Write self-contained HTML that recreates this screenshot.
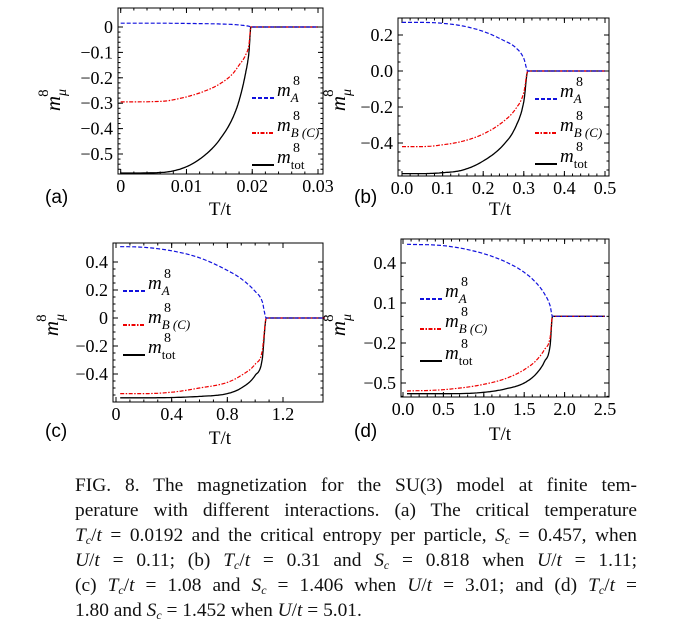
<!DOCTYPE html>
<html><head><meta charset="utf-8"><style>
html,body{margin:0;padding:0;background:#fff;}
body{width:693px;height:638px;position:relative;overflow:hidden;font-family:"Liberation Serif",serif;}
.cap{position:absolute;left:75px;width:562px;font-size:19.4px;line-height:25px;text-align:justify;text-align-last:justify;white-space:nowrap;color:#111;}
.cap.last{text-align-last:left;}
.cap sub{font-size:12px;vertical-align:-3px;line-height:0;}
</style></head><body>
<svg id="fig" width="693" height="460" style="position:absolute;left:0;top:0" font-family="Liberation Serif, serif"></svg>
<div class="cap" style="top:473px">FIG. 8. The magnetization for the SU(3) model at finite tem-</div>
<div class="cap" style="top:498px">perature with different interactions. (a) The critical temperature</div>
<div class="cap" style="top:523px"><i>T<sub>c</sub></i>/<i>t</i> = 0.0192 and the critical entropy per particle, <i>S<sub>c</sub></i> = 0.457, when</div>
<div class="cap" style="top:548px"><i>U</i>/<i>t</i> = 0.11; (b) <i>T<sub>c</sub></i>/<i>t</i> = 0.31 and <i>S<sub>c</sub></i> = 0.818 when <i>U</i>/<i>t</i> = 1.11;</div>
<div class="cap" style="top:573px">(c) <i>T<sub>c</sub></i>/<i>t</i> = 1.08 and <i>S<sub>c</sub></i> = 1.406 when <i>U</i>/<i>t</i> = 3.01; and (d) <i>T<sub>c</sub></i>/<i>t</i> =</div>
<div class="cap last" style="top:598px">1.80 and <i>S<sub>c</sub></i> = 1.452 when <i>U</i>/<i>t</i> = 5.01.</div>
<script>
// ---- data ----
const aT=[0,0.006,0.01,0.013,0.015,0.017,0.018,0.019,0.0195,0.0198,0.025,0.03];
const aA=[0.015,0.015,0.014,0.013,0.012,0.010,0.008,0.005,0.003,0,0,0];
const aB=[-0.295,-0.293,-0.275,-0.25,-0.225,-0.185,-0.15,-0.11,-0.07,0,0,0];
const aTot=[-0.575,-0.573,-0.55,-0.5,-0.445,-0.36,-0.29,-0.18,-0.1,0,0,0];
const aXTicks=["0","0.01","0.02","0.03"];
const aYTicks=["0","\u22120.1","\u22120.2","\u22120.3","\u22120.4","\u22120.5"];
const bT=[0,0.05,0.1,0.15,0.2,0.25,0.28,0.3,0.31,0.4,0.5];
const bA=[0.27,0.27,0.265,0.25,0.22,0.17,0.13,0.07,0,0,0];
const bB=[-0.42,-0.42,-0.41,-0.39,-0.35,-0.28,-0.21,-0.12,0,0,0];
const bTot=[-0.57,-0.57,-0.565,-0.55,-0.5,-0.41,-0.31,-0.17,0,0,0];
const bXTicks=["0.0","0.1","0.2","0.3","0.4","0.5"];
const bYTicks=["0.2","0.0","\u22120.2","\u22120.4"];
const cT=[0.03,0.2,0.4,0.6,0.8,0.9,1.0,1.05,1.08,1.3,1.5];
const cA=[0.51,0.505,0.48,0.43,0.34,0.28,0.19,0.12,0,0,0];
const cB=[-0.54,-0.54,-0.53,-0.5,-0.46,-0.41,-0.33,-0.24,0,0,0];
const cTot=[-0.57,-0.57,-0.568,-0.56,-0.54,-0.5,-0.41,-0.3,0,0,0];
const cXTicks=["0","0.4","0.8","1.2"];
const cYTicks=["0.4","0.2","0","\u22120.2","\u22120.4"];
const dT=[0.05,0.5,1.0,1.3,1.5,1.65,1.75,1.82,1.85,2.2,2.5];
const dA=[0.54,0.53,0.47,0.40,0.33,0.25,0.17,0.08,0,0,0];
const dB=[-0.56,-0.55,-0.51,-0.46,-0.40,-0.33,-0.25,-0.16,0,0,0];
const dTot=[-0.58,-0.58,-0.57,-0.54,-0.5,-0.43,-0.34,-0.22,0,0,0];
const dXTicks=["0.0","0.5","1.0","1.5","2.0","2.5"];
const dYTicks=["0.4","0.1","\u22120.2","\u22120.5"];

const NS="http://www.w3.org/2000/svg";
const svg=document.getElementById('fig');
function mk(tag,attrs,parent){const e=document.createElementNS(NS,tag);for(const k in attrs)e.setAttribute(k,attrs[k]);(parent||svg).appendChild(e);return e;}

function monotone(xs,ys){
  const n=xs.length,d=[],m=new Array(n);
  for(let i=0;i<n-1;i++)d.push((ys[i+1]-ys[i])/(xs[i+1]-xs[i]));
  m[0]=d[0];m[n-1]=d[n-2];
  for(let i=1;i<n-1;i++){m[i]=(d[i-1]*d[i]<=0)?0:(d[i-1]+d[i])/2;}
  for(let i=0;i<n-1;i++){
    if(d[i]===0){m[i]=0;m[i+1]=0;continue;}
    const a=m[i]/d[i],b=m[i+1]/d[i],s=a*a+b*b;
    if(s>9){const t=3/Math.sqrt(s);m[i]=t*a*d[i];m[i+1]=t*b*d[i];}
  }
  const out=[];
  for(let i=0;i<n-1;i++){
    const h=xs[i+1]-xs[i];
    for(let k=0;k<12;k++){
      const t=k/12,t2=t*t,t3=t2*t;
      const y=(2*t3-3*t2+1)*ys[i]+(t3-2*t2+t)*h*m[i]+(-2*t3+3*t2)*ys[i+1]+(t3-t2)*h*m[i+1];
      out.push([xs[i]+t*h,y]);
    }
  }
  out.push([xs[n-1],ys[n-1]]);
  return out;
}

function panel(cfg){
  const g=mk('g',{});
  
  
  const sx=v=>cfg.x0px+(v-cfg.x0)*(cfg.x1px-cfg.x0px)/(cfg.x1-cfg.x0);
  const sy=v=>cfg.y0px+(v-cfg.y0)*(cfg.y1px-cfg.y0px)/(cfg.y1-cfg.y0);
  const f=cfg.frame;
  const fr=mk('rect',{x:f[0],y:f[1],width:f[2]-f[0],height:f[3]-f[1],fill:'none',stroke:'#000','stroke-width':1},g);
  
  
  cfg.xt.forEach((lab,i)=>{
    const v=cfg.xtv[i],X=sx(v);
    mk('line',{x1:X,x2:X,y1:f[3],y2:f[3]-5,stroke:'#000'},g);
    mk('line',{x1:X,x2:X,y1:f[1],y2:f[1]+5,stroke:'#000'},g);
    const t=mk('text',{x:X,y:f[3]+18,'font-size':18,'text-anchor':'middle'},g);
    t.textContent=lab;
    
    
  });
  for(let v=cfg.xtv[0];v<=cfg.x1+1e-9;v+=cfg.xminor){const X=sx(v);if(X>f[2]+0.5)break;
    mk('line',{x1:X,x2:X,y1:f[3],y2:f[3]-2.5,stroke:'#000'},g);mk('line',{x1:X,x2:X,y1:f[1],y2:f[1]+2.5,stroke:'#000'},g);}
  cfg.yt.forEach((lab,i)=>{
    const v=cfg.ytv[i],Y=sy(v);
    mk('line',{x1:f[0],x2:f[0]+5,y1:Y,y2:Y,stroke:'#000'},g);
    mk('line',{x1:f[2],x2:f[2]-5,y1:Y,y2:Y,stroke:'#000'},g);
    const t=mk('text',{x:f[0]-5,y:Y+6,'font-size':18,'text-anchor':'end'},g);
    t.textContent=lab;
    
    
  });
  for(let v=cfg.ytv[0];sy(v)<f[3];v-=cfg.yminor){const Y=sy(v);if(Y<f[1])continue;
    mk('line',{x1:f[0],x2:f[0]+2.5,y1:Y,y2:Y,stroke:'#000'},g);mk('line',{x1:f[2],x2:f[2]-2.5,y1:Y,y2:Y,stroke:'#000'},g);}
  const series=[[cfg.tot,'#000','none',1.3,'line-m-tot'],[cfg.B,'#e00','4 1.5 1.5 1.5',1.2,'line-m-b'],[cfg.A,'#11d','4 2',1.2,'line-m-a']];
  series.forEach(s=>{
    const pts=monotone(cfg.T,s[0]).map(p=>sx(p[0]).toFixed(1)+','+sy(p[1]).toFixed(1)).join(' ');
    const p=mk('polyline',{points:pts,fill:'none',stroke:s[1],'stroke-width':s[3],'stroke-dasharray':s[2]},g);
    
    
  });
  const L=cfg.leg, labs=[['A','#11d','4 2'],['B (C)','#e00','4 1.5 1.5 1.5'],['tot','#000','none']];
  labs.forEach((l,i)=>{
    const Y=L.ys[i];
    const ln=mk('line',{x1:L.x,x2:L.x+22,y1:Y,y2:Y,stroke:l[1],'stroke-width':2,'stroke-dasharray':l[2]},g);
    
    
    const t=mk('text',{x:L.x+25,y:Y-2,'font-size':19},g);
    
    
    t.innerHTML='<tspan font-style="italic">m</tspan><tspan font-size="13" dy="6" font-style="'+(l[0]==='tot'?'normal':'italic')+'">'+l[0]+'</tspan>';
    const s8=mk('text',{x:L.x+41,y:Y-13,'font-size':14},g);
    s8.textContent='8';
    
    
  });
  const yl=mk('text',{transform:'translate('+cfg.ylab[0]+','+cfg.ylab[1]+') rotate(-90)','font-size':21,'text-anchor':'middle'},g);
  
  
  yl.innerHTML='<tspan font-style="italic">m</tspan><tspan font-size="14" dy="6" font-style="italic">μ</tspan><tspan font-size="15" dx="-8" dy="-18">8</tspan>';
  const xl=mk('text',{x:cfg.xlab[0],y:cfg.xlab[1],'font-size':19,'text-anchor':'middle'},g);
  xl.textContent='T/t';
  
  
  const pl=mk('text',{x:cfg.plab[0],y:cfg.plab[1],'font-size':19,'font-family':'Liberation Sans, sans-serif'},g);
  pl.textContent='('+cfg.id+')';
  
  
}
panel({id:'a',frame:[118,8,323,174],x0:0,x1:0.03,x0px:120.7,x1px:318,y0:0,y1:-0.5,y0px:27,y1px:154,
  xt:aXTicks,xtv:[0,0.01,0.02,0.03],xminor:0.002,yt:aYTicks,ytv:[0,-0.1,-0.2,-0.3,-0.4,-0.5],yminor:0.02,
  T:aT,A:aA,B:aB,tot:aTot,leg:{x:252,ys:[98,133,165]},ylab:[60,100],xlab:[220,215],plab:[45,203]});
panel({id:'b',frame:[398,18,609,176],x0:0,x1:0.5,x0px:402,x1px:605,y0:0.2,y1:-0.4,y0px:35,y1px:143,
  xt:bXTicks,xtv:[0,0.1,0.2,0.3,0.4,0.5],xminor:0.02,yt:bYTicks,ytv:[0.2,0,-0.2,-0.4],yminor:0.05,
  T:bT,A:bA,B:bB,tot:bTot,leg:{x:535,ys:[99,133,164]},ylab:[345,100],xlab:[500,215],plab:[354,203]});
panel({id:'c',frame:[113,243,323,402],x0:0,x1:1.2,x0px:116,x1px:283,y0:0.4,y1:-0.4,y0px:262,y1px:374,
  xt:cXTicks,xtv:[0,0.4,0.8,1.2],xminor:0.1,yt:cYTicks,ytv:[0.4,0.2,0,-0.2,-0.4],yminor:0.05,
  T:cT,A:cA,B:cB,tot:cTot,leg:{x:123,ys:[291,325,355]},ylab:[58,325],xlab:[220,444],plab:[45,437]});
panel({id:'d',frame:[401,239,609,397],x0:0,x1:2.5,x0px:403,x1px:605,y0:0.4,y1:-0.5,y0px:263,y1px:383,
  xt:dXTicks,xtv:[0,0.5,1,1.5,2,2.5],xminor:0.1,yt:dYTicks,ytv:[0.4,0.1,-0.2,-0.5],yminor:0.1,
  T:dT,A:dA,B:dB,tot:dTot,leg:{x:420,ys:[299,329,361]},ylab:[345,325],xlab:[500,440],plab:[354,437]});
</script>
</body></html>
